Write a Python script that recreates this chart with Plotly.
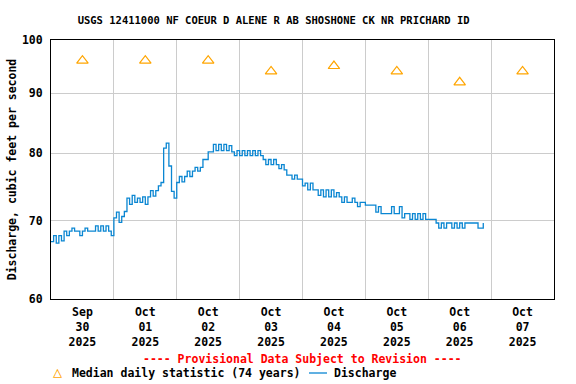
import math
import pandas as pd
import plotly.graph_objects as go

# ---- data ----
median_dates = ["2025-09-30 12:00", "2025-10-01 12:00", "2025-10-02 12:00", "2025-10-03 12:00",
                "2025-10-04 12:00", "2025-10-05 12:00", "2025-10-06 12:00", "2025-10-07 12:00"]
median_values = [96, 96, 96, 94, 95, 94, 92, 94]

discharge_start = "2025-09-30 00:00"
discharge_values = [
    # Sep 30
    67.2, 68.0, 67.0, 68.0, 67.3, 68.6, 68.0, 68.6, 69.0, 68.6, 68.6, 68.0,
    68.6, 69.0, 68.6, 68.6, 68.6, 69.3, 68.6, 69.3, 68.6, 69.3, 68.6, 68.0,
    # Oct 1
    70.4, 71.2, 69.8, 70.6, 71.3, 73.2, 72.3, 73.6, 72.6, 73.2, 72.6, 73.4,
    72.3, 73.4, 74.3, 73.5, 74.3, 75.0, 75.5, 80.8, 81.6, 78.0, 74.2, 73.2,
    # Oct 2
    75.5, 76.4, 75.6, 76.4, 77.2, 76.4, 77.2, 77.8, 77.2, 77.8, 79.0, 79.0,
    80.2, 80.2, 81.4, 80.4, 81.4, 80.4, 81.4, 80.4, 81.2, 80.2, 79.6, 80.4,
    # Oct 3
    79.6, 80.4, 79.6, 80.4, 79.6, 80.4, 79.6, 80.4, 79.6, 79.0, 78.2, 79.0,
    78.2, 79.0, 78.2, 77.6, 78.2, 77.4, 76.6, 76.6, 76.0, 76.6, 76.0, 76.0,
    # Oct 4
    75.0, 75.4, 74.4, 75.4, 74.4, 74.4, 73.6, 74.4, 73.4, 74.4, 73.4, 74.4,
    73.4, 74.0, 73.4, 72.6, 73.4, 72.6, 72.6, 73.2, 72.6, 72.0, 72.6, 72.6,
    # Oct 5
    72.2, 72.2, 72.2, 72.2, 71.2, 72.0, 71.0, 71.0, 71.0, 71.0, 72.0, 71.0,
    71.0, 72.0, 70.4, 71.0, 71.0, 70.2, 71.0, 70.2, 71.0, 70.2, 71.0, 70.2,
    # Oct 6
    70.2, 70.2, 70.2, 69.7, 69.0, 69.7, 69.0, 69.7, 69.7, 69.0, 69.7, 69.0,
    69.7, 69.0, 69.7, 69.7, 69.7, 69.7, 69.7, 69.0, 69.0, 69.7,
]
discharge_times = pd.date_range(discharge_start, periods=len(discharge_values), freq="h")

tick_dates = median_dates
tick_labels = ["Sep<br>30<br>2025", "Oct<br>01<br>2025", "Oct<br>02<br>2025", "Oct<br>03<br>2025",
               "Oct<br>04<br>2025", "Oct<br>05<br>2025", "Oct<br>06<br>2025", "Oct<br>07<br>2025"]
grid_dates = pd.date_range("2025-09-30", "2025-10-08", freq="D")
y_ticks = [60, 70, 80, 90, 100]

FONT = "DejaVu Sans Mono"
BLUE = "#0a86d2"
ORANGE = "#ffa500"

# plot-area geometry in pixels (for placing the bottom legend texts)
PL, PR, PT, PB = 51, 554, 40, 299


def px_x(px):
    return (px - PL) / (PR - PL)


def px_y(py):
    return (PB - py) / (PB - PT)


fig = go.Figure()
fig.add_trace(go.Scatter(
    x=median_dates, y=median_values, mode="markers",
    name="Median daily statistic (74 years)",
    marker=dict(symbol="triangle-up-open", size=10, color=ORANGE, line=dict(width=1.2, color=ORANGE)),
))
fig.add_trace(go.Scatter(
    x=discharge_times, y=discharge_values, mode="lines", name="Discharge",
    line=dict(color=BLUE, width=1.3, shape="hv"),
))

bold = dict(family=FONT, size=11.5, color="black", weight="bold")
legend_y = px_y(373)

fig.update_layout(
    width=576, height=384,
    margin=dict(l=PL, r=576 - PR, t=PT, b=384 - PB, autoexpand=False),
    plot_bgcolor="white", paper_bgcolor="white",
    font=bold,
    title=dict(text="USGS 12411000 NF COEUR D ALENE R AB SHOSHONE CK NR PRICHARD ID",
               x=0.475, xref="container", xanchor="center", y=1 - 20 / 384, yanchor="middle",
               font=dict(family=FONT, size=10.5, color="black", weight="bold")),
    showlegend=False,
    annotations=[
        dict(text="---- Provisional Data Subject to Revision ----",
             xref="paper", yref="paper", x=0.5, y=px_y(359), xanchor="center", yanchor="middle",
             showarrow=False, font=dict(family=FONT, size=11.5, color="#ff0000", weight="bold")),
        dict(text="△", xref="paper", yref="paper", x=px_x(57), y=px_y(372),
             xanchor="center", yanchor="middle", showarrow=False,
             font=dict(family=FONT, size=15, color=ORANGE)),
        dict(text="Median daily statistic (74 years)", xref="paper", yref="paper",
             x=px_x(70), y=legend_y, xanchor="left", yanchor="middle", showarrow=False, font=bold),
        dict(text="Discharge", xref="paper", yref="paper",
             x=px_x(332), y=legend_y, xanchor="left", yanchor="middle", showarrow=False, font=bold),
    ],
    shapes=[dict(type="line", xref="paper", yref="paper",
                 x0=px_x(309), x1=px_x(327), y0=legend_y, y1=legend_y,
                 line=dict(color=BLUE, width=1.3))],
)

fig.update_xaxes(
    type="date", range=["2025-09-30 00:00", "2025-10-08 00:00"],
    tickmode="array", tickvals=tick_dates, ticktext=tick_labels,
    showgrid=False, ticks="", zeroline=False, automargin=False, ticklabelstandoff=2,
    showline=True, linecolor="black", linewidth=1, mirror=True,
    minor=dict(tickmode="array", tickvals=list(grid_dates), showgrid=True,
               gridcolor="#cccccc", gridwidth=1, ticks=""),
)
fig.update_yaxes(
    type="log", range=[math.log10(60), 2],
    tickmode="array", tickvals=y_ticks, ticktext=[str(v) for v in y_ticks],
    showgrid=True, gridcolor="#cccccc", gridwidth=1, ticks="", zeroline=False,
    automargin=False, ticklabelstandoff=5,
    showline=True, linecolor="black", linewidth=1, mirror=True,
    title=dict(text="Discharge, cubic feet per second", standoff=2,
               font=dict(family=FONT, size=11.5, color="black", weight="bold")),
)

fig.write_html("out.html", config={"displayModeBar": False},
               post_script="document.body.style.margin='0';document.body.style.padding='0';")
